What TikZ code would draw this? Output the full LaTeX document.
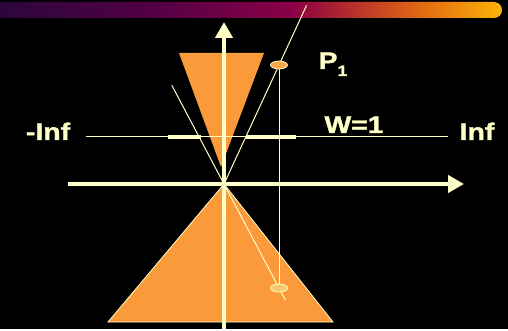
\documentclass[tikz,border=0pt]{standalone}
\usepackage{fontspec}
\setmainfont{Liberation Sans}
\newfontfamily\heavyfont{Liberation Sans Bold}[FakeBold=1.2]
\usetikzlibrary{arrows.meta, calc}
\definecolor{coneOrange}{HTML}{FA9A3A}
\definecolor{lineCream}{HTML}{FFFFC8}
\definecolor{dotUpper}{HTML}{F8A848}
\definecolor{dotLower}{HTML}{F8C870}
\definecolor{bannerA}{HTML}{2C063E}
\definecolor{bannerB}{HTML}{520046}
\definecolor{bannerC}{HTML}{8A0046}
\definecolor{bannerD}{HTML}{A81E34}
\definecolor{bannerE}{HTML}{E26A12}
\definecolor{bannerF}{HTML}{FCB408}
\pgfdeclarehorizontalshading{bannerfade}{100bp}{color(0bp)=(bannerA); color(25bp)=(bannerA); color(40bp)=(bannerB); color(54bp)=(bannerC); color(58bp)=(bannerD); color(67bp)=(bannerE); color(75bp)=(bannerF); color(100bp)=(bannerF)}
\newcommand{\wtxt}[1]{\scalebox{1.18}[1]{#1}}

\begin{document}
\begin{tikzpicture}[
    x=1pt, y=-1pt,
    axislabel/.style={text=lineCream, font=\fontsize{24}{24}\selectfont\heavyfont,
        inner sep=0pt, anchor=base},
    thinline/.style={draw=lineCream, line width=1pt},
    thickseg/.style={draw=lineCream, line width=4pt},
    axisline/.style={draw=lineCream, line width=4pt,
        -{Triangle[width=17pt, length=16pt]}},
    cone/.style={fill=coneOrange}
]

% background and title bar
\fill[black] (0,0) rectangle (508,329);
\shade[shading=bannerfade] (0,2) -- (480,2) [rounded corners=8pt] -- (502,2)
    -- (502,18) -- (480,18) [sharp corners] -- (0,18) -- cycle;

\coordinate (o) at (224,184);
\coordinate (p1) at (279,65);
\coordinate (p1low) at (279,288);
\coordinate (wl) at (86,137);
\coordinate (wr) at (448,137);

% cones
\draw[cone, draw=lineCream, line width=0.8pt] (o) -- (333,322) -- (108,322) -- cycle;
\fill[cone] (179,53) -- (264,53) -- (221,167) -- cycle;

% W=1 line
\draw[thinline] (wl) -- (wr);
\draw[thickseg] (168,137) -- (201,137);
\draw[thickseg] (246,137) -- (296,137);

% rays through the origin
\draw[thinline] ($(o)!-0.95!(p1low)$) -- ($(o)!1.12!(p1low)$);
\draw[thinline] (o) -- ($(o)!1.5!(p1)$);
\draw[thinline] (p1) -- (p1low);

\draw[fill=dotUpper, draw=lineCream, line width=0.8pt] (p1) ellipse [x radius=8.5, y radius=4];
\draw[fill=dotLower, draw=lineCream, line width=0.8pt] (p1low) ellipse [x radius=8.5, y radius=4];

% axes
\draw[axisline] (68,184) -- (464,184);
\draw[axisline] (224,329) -- (224,22);

\node[axislabel] (ninf) at (48,140) {\wtxt{-Inf}};
\node[axislabel] (pinf) at (477,140) {\wtxt{Inf}};
\node[axislabel] (wone) at (354,133) {\wtxt{W=1}};
\node[axislabel] (pone) at (333,69) {\wtxt{P\raisebox{-7pt}{\fontsize{15}{15}\selectfont 1}}};

\end{tikzpicture}
\end{document}
